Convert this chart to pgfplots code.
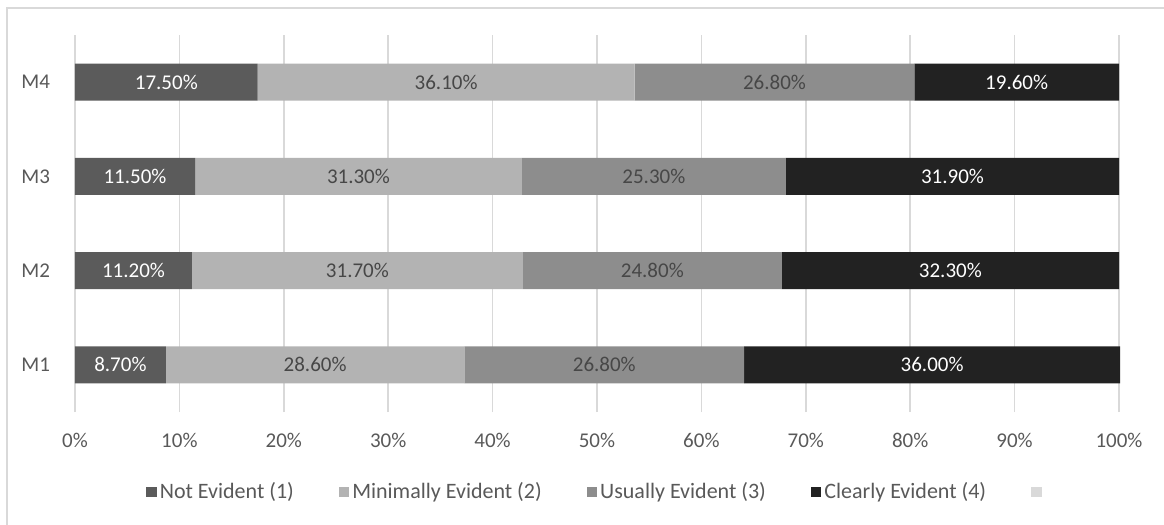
\documentclass[border=0pt]{standalone}
\usepackage{pgfplots}
\pgfplotsset{compat=1.18}
\usepackage{fontspec}
\setmainfont{Carlito}
\definecolor{cA}{HTML}{5B5B5B}
\definecolor{cB}{HTML}{B3B3B3}
\definecolor{cC}{HTML}{8D8D8D}
\definecolor{cD}{HTML}{222222}
\definecolor{cE}{HTML}{D9D9D9}
\definecolor{txt}{HTML}{595959}
\definecolor{grd}{HTML}{D9D9D9}
\begin{document}
\begin{tikzpicture}
\useasboundingbox (-37.5pt,-56.5pt) rectangle (544.5pt,206pt);
\draw[grd, line width=1pt] (-34pt,-56.5pt) -- (-34pt,202pt) -- (544.5pt,202pt);
\begin{axis}[
  at={(0,0)}, anchor=south west,
  scale only axis, width=522pt, height=188.5pt,
  xbar stacked, bar width=18.5pt,
  xmin=0, xmax=100, ymin=-0.5, ymax=3.5,
  clip=false,
  xtick={0,10,...,100},
  xticklabel={\pgfmathprintnumber{\tick}\%},
  ytick={0,1,2,3}, yticklabels={M1,M2,M3,M4},
  xmajorgrids, major grid style={grd, line width=0.8pt},
  axis line style={draw=none},
  major tick length=0pt,
  tick label style={font=\fontsize{10.5}{12}\selectfont, text=txt},
  /pgf/number format/assume math mode=true,
  xticklabel style={yshift=-7pt},
  yticklabel style={xshift=-9pt},
  point meta=rawx,
  nodes near coords={\pgfmathprintnumber[fixed,fixed zerofill,precision=2]{\pgfplotspointmeta}\%},
  every node near coord/.append style={font=\fontsize{10.5}{12}\selectfont, anchor=center},
  legend style={at={(0.5,-0.212)}, anchor=center, legend columns=5, draw=none,
    font=\fontsize{11}{13}\selectfont, text=txt,
    nodes={inner xsep=1.5pt},
    /tikz/every even column/.append style={column sep=21pt}},
  legend image code/.code={\fill[#1] (0pt,-2.6pt) rectangle (5.2pt,2.6pt);},
]
\addplot[fill=cA, draw=none, every node near coord/.append style={text=white}] coordinates {(8.7,0) (11.2,1) (11.5,2) (17.5,3)};
\addlegendentry{Not Evident (1)}
\addplot[fill=cB, draw=none, every node near coord/.append style={text=txt!80!black}] coordinates {(28.6,0) (31.7,1) (31.3,2) (36.1,3)};
\addlegendentry{Minimally Evident (2)}
\addplot[fill=cC, draw=none, every node near coord/.append style={text=txt!80!black}] coordinates {(26.8,0) (24.8,1) (25.3,2) (26.8,3)};
\addlegendentry{Usually Evident (3)}
\addplot[fill=cD, draw=none, every node near coord/.append style={text=white}] coordinates {(36.0,0) (32.3,1) (31.9,2) (19.6,3)};
\addlegendentry{Clearly Evident (4)}
\addlegendimage{fill=cE, draw=none}
\addlegendentry{}
\end{axis}
\end{tikzpicture}
\end{document}
